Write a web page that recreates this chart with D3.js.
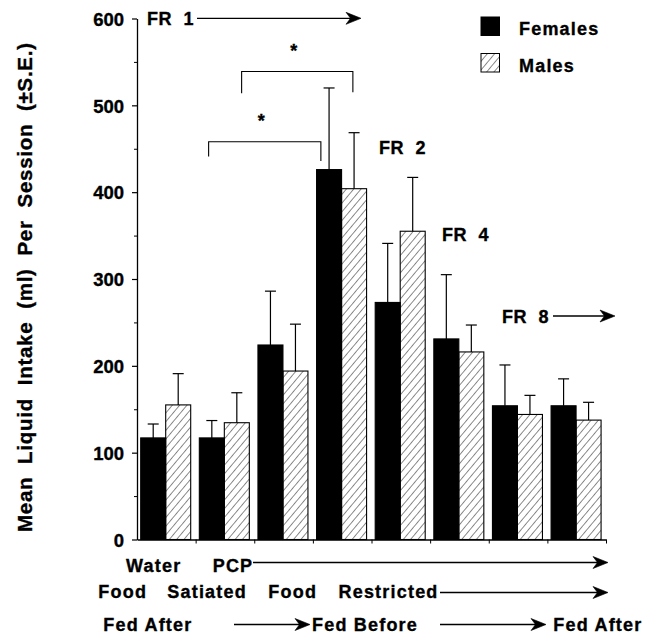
<!DOCTYPE html>
<html>
<head>
<meta charset="utf-8">
<script src="https://cdn.jsdelivr.net/npm/d3@7"></script>
<style>
  body { margin: 0; background: #fff; }
  text { font-family: "Liberation Sans", Arial, Helvetica, sans-serif; font-weight: bold; fill: #000; stroke: #000; stroke-width: 0.35px; }
  .lbl { font-size: 18px; letter-spacing: 1.2px; }
</style>
</head>
<body>
<div id="chart"></div>
<script>
// session groups, left to right
var groups = ["Water", "PCP FS 1", "PCP FS 2", "PCP FR1 restricted", "PCP FR2", "PCP FR4", "PCP FR8 before", "PCP FR8 after"];
var sexes = ["Females", "Males"];

// mean liquid intake (ml) per session
var femaleMeans = [117, 117, 224, 426, 273, 231, 154, 154];
var femaleSE = [16, 20, 62, 94, 68, 74, 47, 31];
var maleMeans = [155, 134.5, 194, 404, 355, 216, 144, 137.5];
var maleSE = [36, 34.5, 54, 64.5, 62, 31, 22, 20.5];

var yTicks = [0, 100, 200, 300, 400, 500, 600];
var yMinorTicks = [50, 150, 250, 350, 450, 550];

var yLabel = "Mean  Liquid  Intake  (ml)  Per  Session  (\u00b1S.E.)";
var conditionRow = ["Water", "PCP"];
var feedingRow = ["Food", "Satiated", "Food", "Restricted"];
var timingRow = ["Fed After", "Fed Before", "Fed After"];
var scheduleLabels = ["FR\u00a0\u00a01", "FR\u00a0\u00a02", "FR\u00a0\u00a04", "FR\u00a0\u00a08"];


drawChart();


function drawChart() {
    var width = 656, height = 635;

    var svg = d3.select("#chart").append("svg")
        .attr("width", width)
        .attr("height", height);

    var defs = svg.append("defs");

    // diagonal hatch for the male bars
    defs.append("pattern")
        .attr("id", "hatch")
        .attr("patternUnits", "userSpaceOnUse")
        .attr("width", 5.6)
        .attr("height", 5.6)
        .attr("patternTransform", "rotate(40)")
        .append("path")
        .attr("d", "M0,-1V7")
        .attr("stroke", "#000")
        .attr("stroke-width", 0.9);

    var x = d3.scaleBand().domain(d3.range(groups.length)).range([137, 606]);
    var xSex = d3.scaleBand().domain(sexes).range([3.7, 53.7]);
    var xTick = d3.scaleLinear().domain([0, groups.length]).range([137, 606]);
    var y = d3.scaleLinear().domain([0, 600]).range([539.5, 18.5]);

    var rows = groups.map(function (g, i) {
        return [
            { group: i, sex: "Females", mean: femaleMeans[i], se: femaleSE[i] },
            { group: i, sex: "Males", mean: maleMeans[i], se: maleSE[i] }
        ];
    });
    var bars = [].concat.apply([], rows);

    // bars
    svg.append("g").selectAll("rect")
        .data(bars)
        .enter().append("rect")
        .attr("x", function (d) { return x(d.group) + xSex(d.sex); })
        .attr("y", function (d) { return y(d.mean); })
        .attr("width", xSex.bandwidth())
        .attr("height", function (d) { return y(0) - y(d.mean); })
        .attr("fill", function (d) { return d.sex == "Females" ? "#000" : "url(#hatch)"; })
        .attr("stroke", "#000")
        .attr("stroke-width", 1.1);

    // error bars (upper half only)
    var eb = svg.append("g").attr("stroke", "#000").attr("stroke-width", 1.2);
    bars.forEach(function (d) {
        var cx = x(d.group) + xSex(d.sex) + xSex.bandwidth() / 2;
        eb.append("line")
            .attr("x1", cx).attr("x2", cx)
            .attr("y1", y(d.mean)).attr("y2", y(d.mean + d.se));
        eb.append("line")
            .attr("x1", cx - 5.5).attr("x2", cx + 5.5)
            .attr("y1", y(d.mean + d.se)).attr("y2", y(d.mean + d.se));
    });

    // y axis
    var yAxis = svg.append("g")
        .attr("transform", "translate(137,0)")
        .call(d3.axisLeft(y).tickValues(yTicks).tickSize(5).tickPadding(8).tickSizeOuter(0));
    yAxis.attr("font-family", null).attr("font-size", null);
    yAxis.selectAll("text").style("font-size", "18.5px").attr("dy", "0.36em");
    yAxis.select(".domain").attr("stroke-width", 1.3);
    yAxis.selectAll(".tick line").attr("stroke-width", 1.2);

    svg.append("g")
        .attr("transform", "translate(137,0)")
        .call(d3.axisLeft(y).tickValues(yMinorTicks).tickSize(3).tickFormat("").tickSizeOuter(0))
        .call(function (g) { g.select(".domain").remove(); });

    // x axis
    var xAxis = svg.append("g")
        .attr("transform", "translate(0," + y(0) + ")")
        .call(d3.axisBottom(xTick).tickValues(d3.range(1, groups.length + 1)).tickSize(4).tickFormat("").tickSizeOuter(0));
    xAxis.select(".domain").attr("stroke-width", 1.3);

    // y label
    svg.append("text")
        .attr("transform", "translate(32,287.5) rotate(-90)")
        .attr("text-anchor", "middle")
        .attr("textLength", 489)
        .attr("lengthAdjust", "spacing")
        .style("font-size", "20.5px")
        .style("white-space", "pre")
        .text(yLabel);

    // legend
    var legend = svg.append("g").attr("transform", "translate(481,17)");
    sexes.forEach(function (s, i) {
        legend.append("rect")
            .attr("x", 0).attr("y", i * 36.5)
            .attr("width", 18.5).attr("height", 18.5)
            .attr("fill", s == "Females" ? "#000" : "url(#hatch)")
            .attr("stroke", "#000")
            .attr("stroke-width", 1);
        legend.append("text")
            .attr("class", "lbl")
            .attr("x", 38).attr("y", i * 36.5 + 18)
            .text(s);
    });

    // schedule labels
    var frPos = [[147, 25], [379, 154], [442, 241], [502, 323]];
    scheduleLabels.forEach(function (t, i) {
        svg.append("text")
            .attr("class", "lbl")
            .attr("x", frPos[i][0]).attr("y", frPos[i][1])
            .style("letter-spacing", "0.6px")
            .text(t);
    });
    arrow(svg, 197, 18.3, 361, 18.3);
    arrow(svg, 553, 316, 615, 316);

    // significance brackets
    var brackets = [
        { from: x(1) + 13, to: x(3) + 8, top: 458, left: 441, right: 436 },
        { from: x(1) + 46, to: x(3) + 40, top: 539, left: 514, right: 515 }
    ];
    brackets.forEach(function (b) {
        svg.append("path")
            .attr("d", "M" + b.from + "," + y(b.left) + "V" + y(b.top) + "H" + b.to + "V" + y(b.right))
            .attr("fill", "none")
            .attr("stroke", "#000")
            .attr("stroke-width", 1.1);
        svg.append("text")
            .attr("x", (b.from + b.to) / 2 - 3.5)
            .attr("y", y(b.top) - 14.5)
            .attr("text-anchor", "middle")
            .style("font-size", "18px")
            .text("*");
    });

    // x labels, three rows
    var row1 = [126, 212.7];
    conditionRow.forEach(function (t, i) {
        svg.append("text").attr("class", "lbl").attr("x", row1[i]).attr("y", 571.5).text(t);
    });
    arrow(svg, 253, 562.5, 608, 562.5);

    var row2 = [98.3, 167.3, 268.3, 338.5];
    feedingRow.forEach(function (t, i) {
        svg.append("text").attr("class", "lbl").attr("x", row2[i]).attr("y", 598.3).text(t);
    });
    arrow(svg, 440, 592.5, 608, 592.5);

    var row3 = [103.3, 312, 553.3];
    timingRow.forEach(function (t, i) {
        svg.append("text").attr("class", "lbl").attr("x", row3[i]).attr("y", 631).text(t);
    });
    arrow(svg, 234, 624.5, 310, 624.5);
    arrow(svg, 440, 624.5, 546, 624.5);
}


function arrow(svg, x1, y1, x2, y2) {
    svg.append("line")
        .attr("x1", x1).attr("y1", y1)
        .attr("x2", x2 - 4).attr("y2", y2)
        .attr("stroke", "#000")
        .attr("stroke-width", 1.3);
    svg.append("path")
        .attr("d", "M" + x2 + "," + y2 + "l-15,-6l4.5,6l-4.5,6z")
        .attr("fill", "#000")
        .attr("stroke", "#000")
        .attr("stroke-width", 0.6)
        .attr("stroke-linejoin", "round");
}
</script>
</body>
</html>
